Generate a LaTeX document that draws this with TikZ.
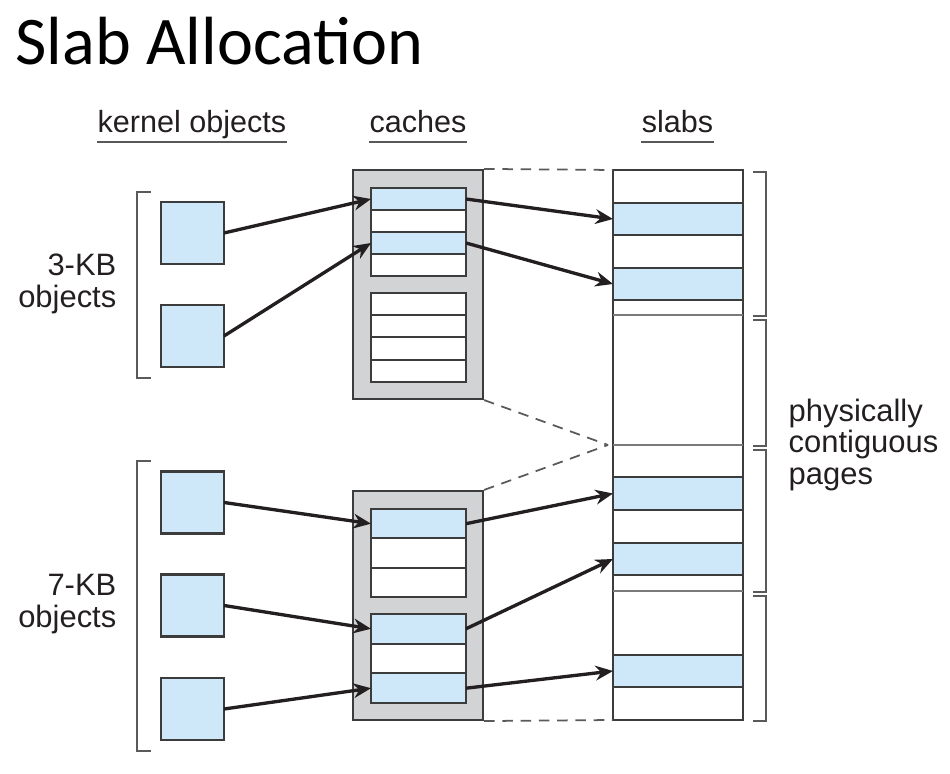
\documentclass[tikz,border=0pt]{standalone}
\usepackage{fontspec}
\setmainfont{Liberation Sans}
\newfontfamily\titlefont{Carlito}
\usetikzlibrary{arrows.meta}
\definecolor{slabBlue}{HTML}{CFE8F9}
\definecolor{slabGray}{HTML}{D1D3D4}
\definecolor{slabLine}{HTML}{3C3C3C}
\definecolor{slabInk}{HTML}{231F20}
\definecolor{slabGuide}{HTML}{5A5A5A}
\definecolor{slabPage}{HTML}{7A7A7A}

\begin{document}
\begin{tikzpicture}[
  x=1cm,
  y=1cm,
  >=Stealth,
  title/.style={
    anchor=base west,
    inner sep=0pt,
    font=\titlefont\fontsize{19.4}{23}\selectfont,
    text=black
  },
  header/.style={
    anchor=base,
    inner xsep=0pt,
    font=\fontsize{8.7}{10}\selectfont,
    text=slabInk
  },
  sizelabel/.style={
    align=right,
    anchor=east,
    inner sep=0pt,
    font=\fontsize{8.8}{9.1}\selectfont,
    text=slabInk
  },
  pagelabel/.style={sizelabel, align=left, anchor=west},
  kobj/.style={
    draw=slabLine,
    fill=slabBlue,
    line width=.6pt,
    minimum width=.63cm,
    minimum height=.62cm,
    inner sep=0pt,
    outer sep=0pt
  },
  cachebox/.style={
    draw=slabLine,
    fill=slabGray,
    line width=.6pt,
    minimum width=1.30cm,
    minimum height=2.29cm,
    inner sep=0pt
  },
  cell/.style={
    draw=slabLine,
    fill=white,
    line width=.6pt,
    minimum width=.95cm,
    inner sep=0pt,
    outer sep=0pt
  },
  usedcell/.style={cell, fill=slabBlue},
  slabband/.style={cell, fill=slabBlue, minimum width=1.30cm},
  pageline/.style={draw=slabPage, line width=.6pt},
  bracket/.style={draw=slabGuide, line width=.6pt},
  ulrule/.style={draw=slabInk!75, line width=.55pt},
  flow/.style={-{Stealth[length=5pt,width=4.2pt]}, draw=slabInk, line width=.95pt},
  guide/.style={draw=slabGuide, line width=.5pt, dash pattern=on 3pt off 2.2pt}
]

\path[use as bounding box] (0,0) rectangle (9.5,7.74);

\node[title] (title) at (.15,7.09) {Slab Allocation};

% column headings
\node[header] (hkernel) at (1.92,6.41) {kernel objects};
\node[header] (hcache) at (4.18,6.41) {caches};
\node[header] (hslab) at (6.775,6.41) {slabs};
\draw[ulrule] ([yshift=-.09cm]hkernel.base west) -- ([yshift=-.09cm]hkernel.base east);
\draw[ulrule] ([yshift=-.09cm]hcache.base west) -- ([yshift=-.09cm]hcache.base east);
\draw[ulrule] ([yshift=-.09cm]hslab.base west) -- ([yshift=-.09cm]hslab.base east);

% kernel objects
\node[sizelabel] (l3kb) at (1.17,4.90) {3-KB\\objects};
\node[sizelabel] (l7kb) at (1.17,1.70) {7-KB\\objects};
\draw[bracket] (1.51,5.82) -- (1.37,5.82) -- (1.37,3.96) -- (1.51,3.96);
\draw[bracket] (1.51,3.13) -- (1.37,3.13) -- (1.37,.23) -- (1.51,.23);

\node[kobj] (obj1) at (1.925,5.41) {};
\node[kobj] (obj2) at (1.925,4.38) {};
\node[kobj] (obj3) at (1.925,2.715) {};
\node[kobj] (obj4) at (1.925,1.685) {};
\node[kobj] (obj5) at (1.925,.65) {};

% caches
\node[cachebox] (cache3) at (4.18,4.895) {};
\node[cachebox] (cache7) at (4.18,1.685) {};

\node[usedcell, minimum height=.22cm] (a1) at (4.185,5.75) {};
\node[cell, minimum height=.22cm] (a2) at (4.185,5.53) {};
\node[usedcell, minimum height=.22cm] (a3) at (4.185,5.31) {};
\node[cell, minimum height=.22cm] (a4) at (4.185,5.09) {};

\node[cell, minimum height=.2225cm] (b1) at (4.185,4.70) {};
\node[cell, minimum height=.2225cm] (b2) at (4.185,4.4775) {};
\node[cell, minimum height=.2225cm] (b3) at (4.185,4.255) {};
\node[cell, minimum height=.2225cm] (b4) at (4.185,4.0325) {};

\node[usedcell, minimum height=.2933cm] (c1) at (4.185,2.503) {};
\node[cell, minimum height=.2933cm] (c2) at (4.185,2.21) {};
\node[cell, minimum height=.2933cm] (c3) at (4.185,1.917) {};

\node[usedcell, minimum height=.2967cm] (d1) at (4.185,1.452) {};
\node[cell, minimum height=.2967cm] (d2) at (4.185,1.155) {};
\node[usedcell, minimum height=.2967cm] (d3) at (4.185,.858) {};

% slabs
\node[cell, minimum width=1.30cm, minimum height=5.50cm] (slabcol) at (6.78,3.29) {};
\node[slabband, minimum height=.32cm] (band1) at (6.78,5.55) {};
\node[slabband, minimum height=.32cm] (band2) at (6.78,4.90) {};
\node[slabband, minimum height=.33cm] (band3) at (6.78,2.805) {};
\node[slabband, minimum height=.32cm] (band4) at (6.78,2.15) {};
\node[slabband, minimum height=.32cm] (band5) at (6.78,1.03) {};
\draw[pageline] (6.13,4.59) -- (7.43,4.59);
\draw[pageline] (6.13,3.29) -- (7.43,3.29);
\draw[pageline] (6.13,1.83) -- (7.43,1.83);

\draw[bracket] (7.53,6.02) -- (7.66,6.02) -- (7.66,4.58) -- (7.53,4.58);
\draw[bracket] (7.53,4.54) -- (7.66,4.54) -- (7.66,3.28) -- (7.53,3.28);
\draw[bracket] (7.53,3.24) -- (7.66,3.24) -- (7.66,1.82) -- (7.53,1.82);
\draw[bracket] (7.53,1.78) -- (7.66,1.78) -- (7.66,.53) -- (7.53,.53);

\node[pagelabel] (lpages) at (7.88,3.29) {physically\\contiguous\\pages};

% cache to slab outline
\coordinate (pagejoin) at (6.08,3.29);
\draw[guide] (cache3.north east) -- (slabcol.north west);
\draw[guide] (cache3.south east) -- (pagejoin);
\draw[guide] (cache7.north east) -- (pagejoin);
\draw[guide] (cache7.south east) -- (slabcol.south west);

\draw[flow] (obj1.east) -- (a1.west);
\draw[flow] (obj2.east) -- (a3.west);
\draw[flow] (a1.east) -- (band1.west);
\draw[flow] (a3.east) -- (band2.west);
\draw[flow] (obj3.east) -- (c1.west);
\draw[flow] (obj4.east) -- (d1.west);
\draw[flow] (obj5.east) -- (d3.west);
\draw[flow] (c1.east) -- (band3.west);
\draw[flow] (d1.east) -- (band4.west);
\draw[flow] (d3.east) -- (band5.west);
\end{tikzpicture}
\end{document}
